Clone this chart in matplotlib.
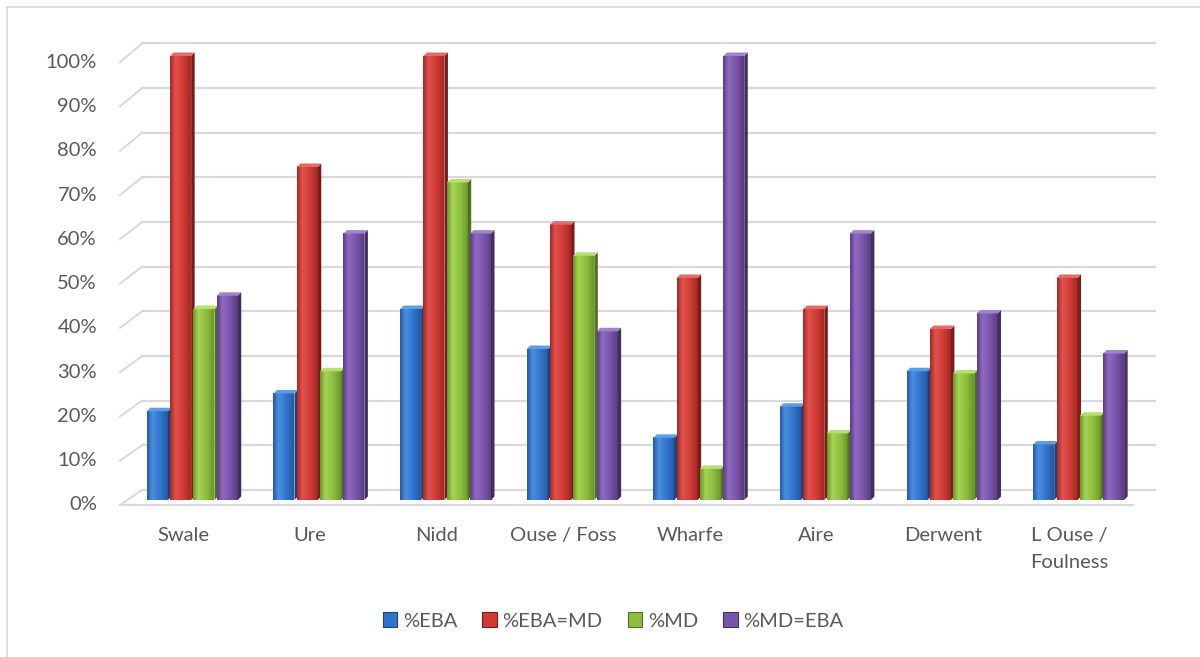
import matplotlib
matplotlib.use("Agg")
import matplotlib.pyplot as plt
import numpy as np
from matplotlib.patches import Polygon, Patch
from matplotlib.colors import LinearSegmentedColormap
from matplotlib.lines import Line2D

# ---- data -------------------------------------------------------------
categories = ["Swale", "Ure", "Nidd", "Ouse / Foss", "Wharfe", "Aire",
              "Derwent", "L Ouse /\nFoulness"]
series_names = ["%EBA", "%EBA=MD", "%MD", "%MD=EBA"]
pct_eba = [20, 24, 43, 34, 14, 21, 29, 12.5]
pct_eba_md = [100, 75, 100, 62, 50, 43, 38.5, 50]
pct_md = [43, 29, 71.5, 55, 7, 15, 28.5, 19]
pct_md_eba = [46, 60, 60, 38, 100, 60, 42, 33]
y_ticks = list(range(0, 101, 10))
y_tick_labels = [f"{t}%" for t in y_ticks]

# ---- styling ----------------------------------------------------------
# (edge, highlight, base, side, top)
palettes = [
    ("#2559a3", "#4a8fe0", "#2f74cc", "#1c4279", "#5d9de6"),
    ("#a52824", "#e0524c", "#cf3a35", "#7a1c19", "#e46a65"),
    ("#6b962a", "#a6d452", "#8dbe3d", "#52731d", "#b7de72"),
    ("#5a3c84", "#8f6ac0", "#7954aa", "#42305c", "#a084c9"),
]
grid_color = "#d9d9d9"
text_color = "#595959"
font = "Lato"
fs = 14.5

W, H = 1200, 657
fig = plt.figure(figsize=(W / 100, H / 100), dpi=100)
fig.patch.set_facecolor("white")

# bar plane: x -0.5..7.5 spans px 129..1142, y 0..100 spans px 500..56
left_px, right_px, base_px, top_px = 129, 1142, 500, 56
ax = fig.add_axes([left_px / W, (H - base_px) / H,
                   (right_px - left_px) / W, (base_px - top_px) / H])
ppx = (right_px - left_px) / len(categories)   # pixels per category
ppy = (base_px - top_px) / 100.0                 # pixels per percent


def back_dy(v):
    return 10 + 2.6 * v / 100.0


def front_dy(v):
    return -5 - 1.2 * v / 100.0


back_dx, front_dx = 13, -9
x_lo, x_hi = -0.5, len(categories) - 0.5

# back wall gridlines + left wall lines
for v, lab in zip(y_ticks, y_tick_labels):
    yb = v + back_dy(v) / ppy
    yf = v + front_dy(v) / ppy
    ax.add_line(Line2D([x_lo + back_dx / ppx, x_hi + back_dx / ppx], [yb, yb],
                       color=grid_color, lw=1.6, zorder=1, clip_on=False))
    ax.add_line(Line2D([x_lo + front_dx / ppx, x_lo + back_dx / ppx], [yf, yb],
                       color=grid_color, lw=1.4, zorder=1, clip_on=False))
    ax.text(x_lo - 32 / ppx, yf, lab, ha="right", va="center", fontsize=fs,
            color=text_color, family=font)

# floor front edge
yf0 = front_dy(0) / ppy
ax.add_line(Line2D([x_lo + front_dx / ppx, x_hi + front_dx / ppx], [yf0, yf0],
                   color=grid_color, lw=1.6, zorder=1, clip_on=False))

# ---- bars -------------------------------------------------------------
all_series = [pct_eba, pct_eba_md, pct_md, pct_md_eba]
pitch = 23.3 / ppx
face = 21.0 / ppx
sdx, sdy = 3.5 / ppx, 3.5 / ppy

for k, (vals, pal) in enumerate(zip(all_series, palettes)):
    edge, hi, base, side, top = pal
    cmap = LinearSegmentedColormap.from_list(
        f"s{k}", [(0.0, edge), (0.25, hi), (0.65, base), (1.0, edge)])
    grad = np.linspace(0, 1, 64)[None, :]
    for i, v in enumerate(vals):
        z = 3 + k
        x0 = i + (k - 1.5) * pitch - face / 2
        x1 = x0 + face
        im = ax.imshow(grad, cmap=cmap, extent=[x0, x1, 0, v], aspect="auto",
                       interpolation="bilinear", zorder=z)
        im.set_clip_on(False)
        ax.add_patch(Polygon([(x1, 0), (x1, v), (x1 + sdx, v + sdy),
                              (x1 + sdx, sdy)], closed=True, clip_on=False,
                             facecolor=side, edgecolor="none", zorder=z))
        ax.add_patch(Polygon([(x0, v), (x1, v), (x1 + sdx, v + sdy),
                              (x0 + sdx, v + sdy)], closed=True, clip_on=False,
                             facecolor=top, edgecolor="none", zorder=z))

ax.set_xlim(x_lo, x_hi)
ax.set_ylim(0, 100)
ax.set_aspect("auto")
ax.axis("off")

# category labels centred under the front floor edge
for i, name in enumerate(categories):
    ax.text(i + front_dx / ppx, -27 / ppy, name, ha="center", va="top",
            fontsize=fs, color=text_color, family=font, linespacing=1.72)

# ---- legend -----------------------------------------------------------
handles = [Patch(facecolor=p[2], edgecolor=p[3], linewidth=0.8)
           for p in palettes]
leg = fig.legend(handles, series_names, loc="center",
                 bbox_to_anchor=(0.511, 1 - 621 / H), ncol=4, frameon=False,
                 handlelength=0.7, handleheight=0.7, handletextpad=0.3,
                 columnspacing=1.25, prop={"family": font, "size": fs})
for t in leg.get_texts():
    t.set_color(text_color)

# chart area border (top and left edges)
fig.add_artist(Line2D([7 / W, 7 / W], [0, 1 - 7 / H], transform=fig.transFigure,
                      color=grid_color, lw=1.2))
fig.add_artist(Line2D([7 / W, 1], [1 - 7 / H, 1 - 7 / H],
                      transform=fig.transFigure, color=grid_color, lw=1.2))

fig.savefig("out.png", dpi=100)
